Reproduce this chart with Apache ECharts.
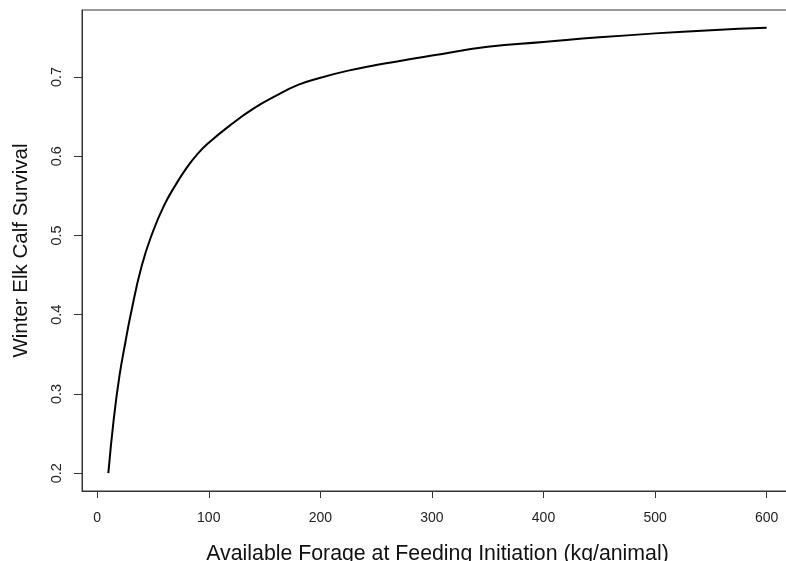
<!DOCTYPE html>
<html>
<head>
<meta charset="utf-8">
<script src="https://cdn.jsdelivr.net/npm/echarts@6/dist/echarts.min.js"></script>
<style>html,body{margin:0;padding:0;background:#fff}#c{width:786px;height:561px}</style>
</head>
<body>
<div id="c"></div>
<script>
const forage = [10, 15, 20, 25, 30, 40, 50, 60, 70, 80, 90, 100, 120, 140, 160, 180, 200, 225, 250, 275, 300, 350, 400, 450, 500, 550, 600];
const survival = [0.200, 0.270, 0.323, 0.363, 0.400, 0.462, 0.505, 0.538, 0.563, 0.585, 0.603, 0.617, 0.640, 0.660, 0.676, 0.690, 0.699, 0.708, 0.715, 0.721, 0.727, 0.738, 0.744, 0.750, 0.755, 0.759, 0.762];
const xTicks = [0, 100, 200, 300, 400, 500, 600];
const yTicks = [0.2, 0.3, 0.4, 0.5, 0.6, 0.7];
const xTitle = 'Available Forage at Feeding Initiation (kg/animal)';
const yTitle = 'Winter Elk Calf Survival';

const chart = echarts.init(document.getElementById('c'), null, {renderer: 'canvas'});
const font = 'Liberation Sans, Arial, sans-serif';
chart.setOption({
  animation: false,
  backgroundColor: '#fff',
  grid: {left: 82, top: 10, width: 711, height: 481, outerBoundsMode: 'none', containLabel: false,
    show: true, borderColor: '#333', borderWidth: 1, backgroundColor: 'transparent'},
  xAxis: {
    type: 'value', min: -13.6, max: 623.6,
    axisLine: {show: true, onZero: false, lineStyle: {color: '#333'}},
    splitLine: {show: false},
    axisTick: {show: true, inside: false, customValues: xTicks, length: 7, lineStyle: {color: '#333'}},
    axisLabel: {customValues: xTicks, margin: 20, fontSize: 14, color: '#222', fontFamily: font},
    name: xTitle, nameLocation: 'middle', nameGap: 53,
    nameTextStyle: {fontSize: 21.3, color: '#111', fontFamily: font}
  },
  yAxis: {
    type: 'value', min: 0.1775, max: 0.7845,
    axisLine: {show: true, onZero: false, lineStyle: {color: '#333'}},
    splitLine: {show: false},
    axisTick: {show: true, inside: false, customValues: yTicks, length: 8, lineStyle: {color: '#333'}},
    axisLabel: {customValues: yTicks, rotate: 90, margin: 18, fontSize: 14.5, color: '#222', fontFamily: font,
      formatter: v => String(Math.round(v * 10) / 10)},
    name: yTitle, nameLocation: 'middle', nameGap: 50, nameRotate: 90,
    nameTextStyle: {fontSize: 20.5, color: '#111', fontFamily: font}
  },
  series: [{
    type: 'line',
    data: forage.map((x, i) => [x, survival[i]]),
    smooth: true,
    showSymbol: false,
    lineStyle: {color: '#000', width: 2}
  }]
});
</script>
</body>
</html>
